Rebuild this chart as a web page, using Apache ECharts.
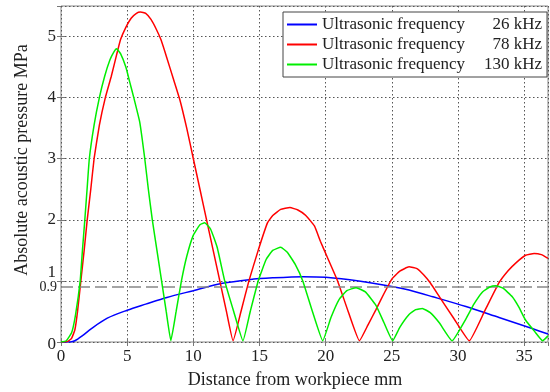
<!DOCTYPE html>
<html><head><meta charset="utf-8">
<script src="https://cdn.jsdelivr.net/npm/echarts@6/dist/echarts.min.js"></script>
<style>html,body{margin:0;padding:0;background:#fff}#c{width:550px;height:392px}</style>
</head><body><div id="c"></div>
<script>
// ---- data ----
const seriesNames = ['Ultrasonic frequency 26 kHz','Ultrasonic frequency 78 kHz','Ultrasonic frequency 130 kHz'];
const legendLabel = 'Ultrasonic frequency';
const legendFreq = ['26 kHz','78 kHz','130 kHz'];
const xTicks = [0,5,10,15,20,25,30,35];
const yTicks = [0,1,2,3,4,5];
const refLevel = 0.9;
const xMax = 36.8;
const yMax = 5.5;
const freq26 = [[0,0],[0.7,0],[1.05,0.02],[1.6,0.1],[2.3,0.22],[3.5,0.39],[5.0,0.52],[6.4,0.62],[8.0,0.73],[10.0,0.84],[12.2,0.96],[14.2,1.02],[16.0,1.05],[18.3,1.07],[20.0,1.06],[22.5,1.0],[25.0,0.91],[26.3,0.85],[28.1,0.74],[30.6,0.58],[33.1,0.40],[35.6,0.22],[36.8,0.13]];
const freq78 = [[0,0],[0.5,0.01],[0.8,0.06],[1.05,0.2],[1.25,0.5],[1.5,1.0],[1.75,1.5],[1.98,2.0],[2.25,2.5],[2.5,3.0],[2.9,3.55],[3.35,4.0],[3.8,4.35],[4.2,4.7],[4.5,4.95],[4.9,5.15],[5.3,5.3],[5.7,5.38],[6.0,5.4],[6.4,5.38],[6.8,5.28],[7.2,5.12],[7.55,4.95],[8.0,4.65],[8.5,4.3],[9.0,3.95],[9.5,3.5],[10.0,3.0],[10.5,2.5],[11.0,2.0],[11.5,1.5],[12.0,1.0],[12.5,0.5],[13.0,0.02],[13.6,0.5],[14.2,1.0],[14.9,1.5],[15.6,1.95],[16.0,2.07],[16.6,2.17],[17.3,2.2],[17.9,2.16],[18.5,2.07],[19.15,1.9],[19.6,1.65],[20.1,1.4],[20.9,1.0],[21.7,0.5],[22.55,0.02],[23.2,0.28],[23.8,0.53],[24.4,0.79],[25.0,1.03],[25.6,1.16],[26.3,1.23],[26.9,1.2],[27.4,1.1],[27.9,0.97],[28.6,0.74],[29.7,0.38],[30.85,0.02],[32.0,0.5],[33.1,0.97],[33.8,1.17],[34.4,1.3],[35.1,1.42],[35.75,1.45],[36.3,1.43],[36.8,1.37]];
const freq130 = [[0,0],[0.4,0.02],[0.8,0.15],[1.1,0.45],[1.45,1.0],[1.62,1.5],[1.8,2.0],[1.97,2.5],[2.14,3.0],[2.5,3.55],[2.9,4.0],[3.3,4.35],[3.7,4.62],[4.0,4.75],[4.2,4.8],[4.5,4.72],[4.9,4.5],[5.2,4.25],[5.5,4.0],[5.95,3.6],[6.33,3.0],[6.6,2.5],[6.9,2.0],[7.25,1.5],[7.6,1.0],[7.95,0.5],[8.3,0.02],[8.7,0.5],[9.1,1.0],[9.5,1.4],[10.0,1.75],[10.5,1.92],[10.85,1.95],[11.3,1.85],[11.8,1.55],[12.37,1.0],[13.05,0.5],[13.75,0.02],[14.3,0.5],[14.9,1.0],[15.5,1.35],[16.0,1.5],[16.6,1.55],[17.1,1.47],[17.7,1.27],[18.27,1.0],[19.0,0.5],[19.78,0.02],[20.4,0.4],[21.0,0.69],[21.6,0.84],[22.3,0.89],[23.0,0.82],[23.8,0.6],[24.4,0.32],[25.06,0.02],[25.6,0.24],[26.3,0.45],[26.8,0.53],[27.3,0.55],[27.9,0.48],[28.6,0.31],[29.55,0.02],[30.6,0.38],[31.2,0.62],[31.85,0.82],[32.4,0.9],[32.86,0.92],[33.4,0.88],[34.1,0.74],[34.6,0.57],[35.1,0.36],[35.8,0.17],[36.4,0.02],[36.8,0.1]];
const colors = ['#0000ff','#ff0000','#00ee00'];
const xTitle = 'Distance from workpiece mm';
const yTitle = 'Absolute acoustic pressure MPa';

const FONT = '"Liberation Serif", "Times New Roman", serif';
const chart = echarts.init(document.getElementById('c'));
const gridLine = {show:true, lineStyle:{color:'#555', type:[1.5,2.5], width:1}};
const tick = {show:true, inside:true, length:4, lineStyle:{color:'#777'}};
const dataArr = [freq26, freq78, freq130];
const smoothing = [0.3, 0.12, 0.12];
const series = dataArr.map((d,i)=>({
  name: seriesNames[i], type:'line', data:d, showSymbol:false, smooth:smoothing[i],
  lineStyle:{color:colors[i], width:1.5}, itemStyle:{color:colors[i]}, z:3+i,
  animation:false
}));
series[0].markLine = {
  silent:true, symbol:['none','none'], animation:false,
  lineStyle:{color:'#888', type:[12,5], width:1.5},
  label:{show:true, position:'start', formatter:String(refLevel), fontFamily:FONT, fontSize:14, color:'#222', distance:4, padding:[10,0,0,0]},
  data:[{yAxis:refLevel}]
};
chart.setOption({
  animation:false,
  grid:{left:61, right:2, top:6, bottom:50, show:true, borderColor:'#888', borderWidth:1, containLabel:false},
  xAxis:[{
    type:'value', min:0, max:xMax, interval:5,
    axisLine:{show:false}, axisTick:tick, splitLine:gridLine,
    axisLabel:{fontFamily:FONT, fontSize:17, color:'#222', margin:6, showMaxLabel:false,
      formatter:v=> xTicks.includes(v)? String(v):''}
  },{
    type:'value', position:'top', min:0, max:xMax, interval:5,
    axisLine:{show:false}, axisTick:tick, splitLine:{show:false}, axisLabel:{show:false}
  }],
  yAxis:[{
    type:'value', min:0, max:yMax, interval:1,
    axisLine:{show:false}, axisTick:tick, splitLine:gridLine,
    axisLabel:{fontFamily:FONT, fontSize:17, color:'#222', margin:5, showMaxLabel:false,
      formatter:v=> !yTicks.includes(v)? '' : (v===1? '{up|1}' : (v===0? '{dn|0}' : String(v))),
      rich:{up:{fontFamily:FONT, fontSize:17, color:'#222', padding:[0,0,16,0]}, dn:{fontFamily:FONT, fontSize:17, color:'#222', padding:[6,0,0,0]}}}
  },{
    type:'value', position:'right', min:0, max:yMax, interval:1,
    axisLine:{show:false}, axisTick:tick, splitLine:{show:false}, axisLabel:{show:false}
  }],
  legend:{
    orient:'vertical', left:283, top:12, data:seriesNames,
    backgroundColor:'#fff', borderColor:'#444', borderWidth:1, borderRadius:0,
    padding:[3,5,3,4], itemGap:1, itemWidth:30, itemHeight:2, icon:'rect',
    selectedMode:false,
    textStyle:{fontFamily:FONT, fontSize:17, color:'#222', lineHeight:19,
      rich:{a:{fontFamily:FONT, fontSize:17, color:'#222', width:150}, b:{fontFamily:FONT, fontSize:17, color:'#222', width:70, align:'right'}}},
    formatter: name => { const i = seriesNames.indexOf(name); return '{a|'+legendLabel+'}{b|'+legendFreq[i]+'}'; }
  },
  graphic:[
    {type:'text', x:22, y:160, rotation:Math.PI/2, style:{text:yTitle, font:'18px '+FONT, fill:'#222', textAlign:'center', textVerticalAlign:'middle'}},
    {type:'text', x:295, y:380, style:{text:xTitle, font:'18px '+FONT, fill:'#222', textAlign:'center', textVerticalAlign:'middle'}}
  ],
  series: series
});
</script></body></html>
